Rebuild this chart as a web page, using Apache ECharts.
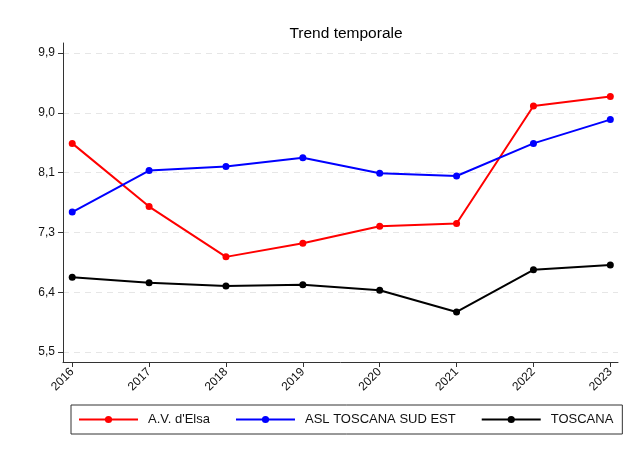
<!DOCTYPE html>
<html>
<head>
<meta charset="utf-8">
<script src="https://cdn.jsdelivr.net/npm/echarts@6/dist/echarts.min.js"></script>
<style>
  html, body { margin: 0; padding: 0; background: #fff; }
  #chart { width: 631px; height: 458px; }
</style>
</head>
<body>
<div id="chart"></div>
<script>
// anni (asse x)
const years = [2016, 2017, 2018, 2019, 2020, 2021, 2022, 2023]
// valori
const avElsa = [8.57, 7.64, 6.90, 7.10, 7.35, 7.39, 9.12, 9.26]
const aslSudEst = [7.56, 8.17, 8.23, 8.36, 8.13, 8.09, 8.57, 8.92]
const toscana = [6.60, 6.52, 6.47, 6.49, 6.41, 6.09, 6.71, 6.78]
// tacche asse y
const yTicks = [5.5, 6.38, 7.26, 8.14, 9.02, 9.9]

const font = 'Liberation Sans'
const pairs = (vals) => years.map((y, i) => [y, vals[i]])

const myChart = echarts.init(document.getElementById('chart'))

const mkSeries = (name, vals, color) => ({
    name: name,
    type: 'line',
    data: pairs(vals),
    symbol: 'circle',
    symbolSize: 7,
    lineStyle: { color: color, width: 2 },
    itemStyle: { color: color },
    emphasis: { disabled: true },
})

const option = {
    backgroundColor: '#fff',
    animation: false,
    title: {
        text: 'Trend temporale',
        left: 341,
        textAlign: 'center',
        top: 21,
        textStyle: { fontFamily: font, fontSize: 15.5, fontWeight: 'normal', color: '#000' }
    },
    grid: { left: 63, right: 13, top: 43, bottom: 96 },
    xAxis: {
        type: 'value',
        min: 2015.88,
        max: 2023.1,
        axisLine: { show: true, onZero: false, lineStyle: { color: '#333', width: 1 } },
        axisTick: { show: true, length: 5, customValues: years, lineStyle: { color: '#333' } },
        axisLabel: {
            customValues: years,
            rotate: 45,
            margin: 8,
            fontFamily: font,
            fontSize: 12,
            color: '#111',
            formatter: (v) => String(v)
        },
        splitLine: { show: false }
    },
    yAxis: {
        type: 'value',
        min: 5.353,
        max: 10.047,
        axisLine: { show: true, lineStyle: { color: '#333', width: 1 } },
        axisTick: { show: true, length: 5, customValues: yTicks, lineStyle: { color: '#333' } },
        axisLabel: {
            customValues: yTicks,
            margin: 8,
            fontFamily: font,
            fontSize: 12,
            color: '#111',
            formatter: (v) => v.toFixed(1).replace('.', ',')
        },
        splitLine: { show: true, lineStyle: { color: '#e6e6e6', type: [6, 5], width: 1 } }
    },
    legend: {
        left: 71,
        top: 405,
        orient: 'horizontal',
        itemWidth: 59,
        itemHeight: 9,
        itemGap: 25,
        padding: [8, 9, 8, 7],
        borderColor: '#333',
        borderWidth: 1,
        textStyle: { fontFamily: font, fontSize: 13, color: '#111', padding: [0, 0, 0, 5] },
        data: ['A.V. d\'Elsa', 'ASL TOSCANA SUD EST', 'TOSCANA']
    },
    series: [
        mkSeries('A.V. d\'Elsa', avElsa, '#ff0000'),
        mkSeries('ASL TOSCANA SUD EST', aslSudEst, '#0000ff'),
        mkSeries('TOSCANA', toscana, '#000000'),
    ]
}

option && myChart.setOption(option)
</script>
</body>
</html>
